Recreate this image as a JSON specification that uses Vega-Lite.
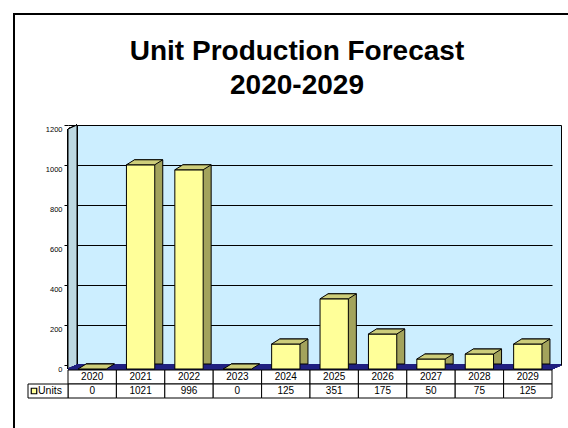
{
  "$schema": "https://vega.github.io/schema/vega-lite/v6.json",
  "width": 484,
  "height": 240,
  "autosize": {"type": "none"},
  "padding": {"left": 77, "top": 125, "right": 7, "bottom": 63},
  "background": "white",
  "title": {
    "text": ["Unit Production Forecast", "2020-2029"],
    "font": "Liberation Sans",
    "fontSize": 28,
    "fontWeight": "bold",
    "color": "black",
    "anchor": "middle",
    "frame": "group",
    "dx": -22,
    "lineHeight": 34,
    "offset": -89.5
  },
  "config": {
    "view": {"fill": "#cceeff", "stroke": "black", "strokeWidth": 1},
    "font": "Liberation Sans",
    "axisY": {"offset": 9, "labelOffset": 4, "tickSize": 4, "tickColor": "black", "domain": false, "grid": true, "gridColor": "black", "gridOpacity": 1, "gridWidth": 1, "labelFont": "Liberation Sans", "labelFontSize": 7.5, "labelColor": "black", "labelPadding": 2, "labelOverlap": false, "labelFlush": false, "title": null}
  },
  "data": {
    "values": [
      {"year": "2020", "units": 0},
      {"year": "2021", "units": 1021},
      {"year": "2022", "units": 996},
      {"year": "2023", "units": 0},
      {"year": "2024", "units": 125},
      {"year": "2025", "units": 351},
      {"year": "2026", "units": 175},
      {"year": "2027", "units": 50},
      {"year": "2028", "units": 75},
      {"year": "2029", "units": 125}
    ]
  },
  "layer": [
    {
      "mark": {"type": "point", "shape": "M -0.953125 1 L -0.953125 -0.721875 L 1 -0.721875", "size": 409600, "filled": false, "fill": "transparent", "stroke": "black", "strokeWidth": 2, "opacity": 1},
      "encoding": {}
    },
    {
      "mark": {"type": "point", "shape": "M -0.75625 -0.375 L -0.75625 0.375 L -0.784375 0.3875 L -0.784375 -0.3625 Z", "size": 409600, "filled": true, "fill": "#bcd8e2", "stroke": "black", "strokeWidth": 1, "opacity": 1},
      "encoding": {}
    },
    {
      "mark": {"type": "point", "shape": "M -0.75625 0.375 L 0.75625 0.375 L 0.728125 0.3875 L -0.784375 0.3875 Z", "size": 409600, "filled": true, "fill": "#202080", "stroke": "#202080", "strokeWidth": 1, "opacity": 1},
      "encoding": {}
    },
    {
      "mark": {"type": "bar", "width": {"band": 0.585}, "fill": "#a3a35c", "stroke": "black", "strokeWidth": 1, "xOffset": -1, "yOffset": -1, "y2Offset": -1},
      "encoding": {
        "x": {"field": "year", "type": "ordinal", "scale": {"type": "band", "paddingInner": 0, "paddingOuter": 0}, "axis": null},
        "y": {"field": "units", "type": "quantitative", "scale": {"domain": [0, 1200], "nice": false},
          "axis": {"values": [0, 200, 400, 600, 800, 1000, 1200], "format": "d"}}
      }
    },
    {
      "mark": {"type": "bar", "width": {"band": 0.585}, "fill": "#ffff99", "stroke": "black", "strokeWidth": 1, "xOffset": -9, "yOffset": 4, "y2Offset": 4},
      "encoding": {
        "x": {"field": "year", "type": "ordinal"},
        "y": {"field": "units", "type": "quantitative", "axis": {"values": [0, 200, 400, 600, 800, 1000, 1200], "format": "d"}}
      }
    },
    {
      "mark": {"type": "point", "shape": "M -0.9075 0.125 L 0.5075 0.125 L 0.9075 -0.125 L -0.5075 -0.125 Z", "size": 1600, "filled": true, "fill": "#cdcd7a", "stroke": "black", "strokeWidth": 1, "opacity": 1, "xOffset": -5, "yOffset": 1.5},
      "encoding": {
        "x": {"field": "year", "type": "ordinal"},
        "y": {"field": "units", "type": "quantitative", "axis": {"values": [0, 200, 400, 600, 800, 1000, 1200], "format": "d"}}
      }
    },
    {
      "mark": {"type": "rect", "fill": "white", "stroke": "black", "strokeWidth": 1, "xOffset": -9, "yOffset": 5, "y2Offset": 19},
      "encoding": {
        "x": {"field": "year", "type": "ordinal"},
        "y": {"datum": 0, "type": "quantitative", "axis": {"values": [0, 200, 400, 600, 800, 1000, 1200], "format": "d"}},
        "y2": {"datum": 0}
      }
    },
    {
      "mark": {"type": "rect", "fill": "white", "stroke": "black", "strokeWidth": 1, "xOffset": -9, "yOffset": 19, "y2Offset": 33},
      "encoding": {
        "x": {"field": "year", "type": "ordinal"},
        "y": {"datum": 0, "type": "quantitative", "axis": {"values": [0, 200, 400, 600, 800, 1000, 1200], "format": "d"}},
        "y2": {"datum": 0}
      }
    },
    {
      "mark": {"type": "text", "font": "Liberation Sans", "fontSize": 10, "color": "black", "baseline": "middle", "align": "center", "xOffset": -9, "yOffset": 12},
      "encoding": {
        "x": {"field": "year", "type": "ordinal"},
        "y": {"datum": 0, "type": "quantitative", "axis": {"values": [0, 200, 400, 600, 800, 1000, 1200], "format": "d"}},
        "text": {"field": "year"}
      }
    },
    {
      "mark": {"type": "text", "font": "Liberation Sans", "fontSize": 10, "color": "black", "baseline": "middle", "align": "center", "xOffset": -9, "yOffset": 26},
      "encoding": {
        "x": {"field": "year", "type": "ordinal"},
        "y": {"datum": 0, "type": "quantitative", "axis": {"values": [0, 200, 400, 600, 800, 1000, 1200], "format": "d"}},
        "text": {"field": "units", "type": "quantitative"}
      }
    },
    {
      "data": {"values": [{"label": "Units"}]},
      "layer": [
        {
          "mark": {"type": "point", "shape": "M -0.8 -0.28 L 0.8 -0.28 L 0.8 0.28 L -0.8 0.28 Z", "size": 2500, "filled": true, "fill": "white", "stroke": "black", "strokeWidth": 1, "opacity": 1, "xOffset": -53.2, "yOffset": 26},
          "encoding": {
            "x": {"datum": "2020", "type": "ordinal"},
            "y": {"datum": 0, "type": "quantitative", "axis": {"values": [0, 200, 400, 600, 800, 1000, 1200], "format": "d"}}
          }
        },
        {
          "mark": {"type": "point", "shape": "square", "size": 30, "filled": true, "fill": "#ffff99", "stroke": "black", "strokeWidth": 1.2, "opacity": 1, "xOffset": -67.2, "yOffset": 26},
          "encoding": {
            "x": {"datum": "2020", "type": "ordinal"},
            "y": {"datum": 0, "type": "quantitative", "axis": {"values": [0, 200, 400, 600, 800, 1000, 1200], "format": "d"}}
          }
        },
        {
          "mark": {"type": "text", "font": "Liberation Sans", "fontSize": 10.5, "color": "black", "baseline": "middle", "align": "left", "xOffset": -63.2, "yOffset": 26},
          "encoding": {
            "x": {"datum": "2020", "type": "ordinal"},
            "y": {"datum": 0, "type": "quantitative", "axis": {"values": [0, 200, 400, 600, 800, 1000, 1200], "format": "d"}},
            "text": {"field": "label"}
          }
        }
      ]
    }
  ]
}
